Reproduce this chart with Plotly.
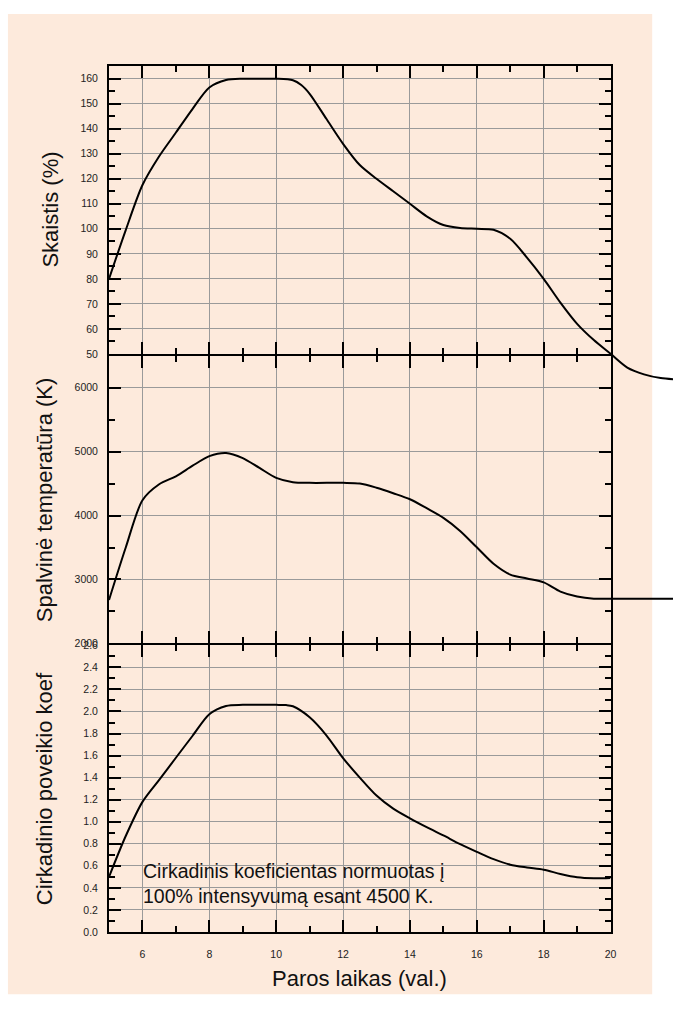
import plotly.graph_objects as go

# ---------------- data ----------------
hours_bright = [5, 5.5, 6, 6.5, 7, 7.5, 8, 8.5, 9, 9.5, 10, 10.5, 10.75, 11, 11.5, 12, 12.5, 13,
                13.5, 14, 14.5, 15, 15.5, 16, 16.5, 17, 17.5, 18, 18.5, 19, 19.5, 20, 20.5, 21,
                21.5, 21.9]
brightness = [80, 99.5, 117.5, 129, 138.5, 148, 156.5, 159.5, 160, 160, 160, 159.4, 157.5, 154,
              144, 134, 125.5, 120, 115, 110, 105, 101.5, 100.3, 100, 99.6, 96, 88.5, 80, 70.5,
              62, 55.5, 50, 44.5, 41.8, 40.3, 39.8]

hours_cct = [5, 5.5, 6, 6.5, 7, 7.5, 8, 8.5, 9, 9.5, 10, 10.5, 11, 12, 12.5, 13, 13.5, 14, 14.5,
             15, 15.5, 16, 16.5, 17, 17.5, 18, 18.5, 19, 19.5, 20, 21.9]
cct = [2680, 3500, 4240, 4490, 4615, 4780, 4930, 4980, 4900, 4745, 4590, 4523, 4512, 4512, 4502,
       4436, 4350, 4256, 4115, 3965, 3760, 3503, 3246, 3077, 3015, 2954, 2810, 2733, 2700, 2700,
       2700]

hours_circ = [5, 5.5, 6, 6.5, 7, 7.5, 8, 8.5, 9, 10, 10.3, 10.5, 11, 11.5, 12, 12.5, 13, 13.5, 14,
              14.5, 15, 15.5, 16, 16.5, 17, 17.5, 18, 18.5, 19, 19.5, 20]
circadian = [0.5, 0.87, 1.18, 1.38, 1.58, 1.78, 1.975, 2.05, 2.06, 2.06, 2.058, 2.047, 1.947, 1.784,
             1.577, 1.40, 1.237, 1.118, 1.03, 0.95, 0.875, 0.797, 0.727, 0.66, 0.61, 0.585, 0.565,
             0.526, 0.496, 0.487, 0.49]

x_range = [5, 20]
bright_range = [50, 165]
cct_range = [2000, 6500]
circ_range = [0, 2.6]

title_bright = "Skaistis (%)"
title_cct = "Spalvinė temperatūra (K)"
title_circ = "Cirkadinio poveikio koef"
title_x = "Paros laikas (val.)"
note = "Cirkadinis koeficientas normuotas į<br>100% intensyvumą esant 4500 K."

# ---------------- layout geometry (page pixels) ----------------
W, H = 679, 1015
FONT = "Liberation Sans, Arial, sans-serif"
BEIGE = "#FDEADC"


def px(x):
    return x / W


def py(y):
    return 1 - y / H


X_L, X_R, X_EXT = 110, 616, W
Y_T = 61
Y_1a, Y_1b = 352, 354     # bottom of top panel / top of middle panel
Y_2a, Y_2b = 645, 647     # bottom of middle panel / top of bottom panel
Y_B = 937
Y_EXT = 420               # lower end of the extended (invisible) axis for the brightness curve

# extended invisible axes so curves can run past the frame as in the original
ppx = (X_R - X_L) / (x_range[1] - x_range[0])
x_ext_range = [x_range[0], x_range[1] + (X_EXT - X_R) / ppx]
ppy_b = (Y_1a - Y_T) / (bright_range[1] - bright_range[0])
bright_ext_range = [bright_range[0] - (Y_EXT - Y_1a) / ppy_b, bright_range[1]]

fig = go.Figure()
line_style = dict(color="black", width=2, shape="spline", smoothing=0.8)
# empty traces so that every panel's axes get drawn
for xa, ya in (("x3", "y"), ("x2", "y2")):
    fig.add_trace(go.Scatter(x=[None], y=[None], mode="lines", xaxis=xa, yaxis=ya,
                             showlegend=False, hoverinfo="skip"))
fig.add_trace(go.Scatter(x=hours_bright, y=brightness, mode="lines", line=line_style,
                         xaxis="x4", yaxis="y4", showlegend=False, hoverinfo="skip"))
fig.add_trace(go.Scatter(x=hours_cct, y=cct, mode="lines", line=line_style,
                         xaxis="x4", yaxis="y5", showlegend=False, hoverinfo="skip"))
fig.add_trace(go.Scatter(x=hours_circ, y=circadian, mode="lines", line=line_style,
                         xaxis="x", yaxis="y3", showlegend=False, hoverinfo="skip"))

tickfont = dict(family=FONT, size=10.5, color="#222")
common = dict(showline=True, linecolor="black", linewidth=2, mirror="ticks",
              ticks="inside", ticklen=12, tickwidth=2, tickcolor="black",
              showgrid=True, gridcolor="#9a9a9a", gridwidth=1, zeroline=False,
              tickfont=tickfont, fixedrange=True)
minor = dict(ticks="inside", ticklen=6, tickwidth=2, tickcolor="black", showgrid=False)

xdom = [px(X_L), px(X_R)]
xcommon = dict(common, range=x_range, domain=xdom, tick0=0, dtick=2,
               minor=dict(minor, dtick=1))

fig.update_layout(
    width=W, height=H,
    margin=dict(l=0, r=0, t=0, b=0),
    paper_bgcolor="white",
    plot_bgcolor="rgba(0,0,0,0)",
    font=dict(family=FONT, color="#222"),
    xaxis=dict(xcommon, anchor="y3", showticklabels=True, ticklabelstandoff=11),
    xaxis2=dict(xcommon, anchor="y2", showticklabels=False),
    xaxis3=dict(xcommon, anchor="y", showticklabels=False),
    xaxis4=dict(range=x_ext_range, domain=[px(X_L), 1], anchor="y4", visible=False,
                fixedrange=True),
    yaxis=dict(common, range=bright_range, domain=[py(Y_1a), py(Y_T)], anchor="x3",
               tick0=0, dtick=10, minor=dict(minor, dtick=5), ticklabelstandoff=7),
    yaxis2=dict(common, range=cct_range, domain=[py(Y_2a), py(Y_1b)], anchor="x2",
                tick0=0, dtick=1000, tickformat="d", minor=dict(minor, dtick=500),
                ticklabelstandoff=7),
    yaxis3=dict(common, range=circ_range, domain=[py(Y_B), py(Y_2b)], anchor="x",
                tick0=0, dtick=0.2, tickformat=".1f", minor=dict(minor, dtick=0.1),
                ticklabelstandoff=7),
    yaxis4=dict(range=bright_ext_range, domain=[py(Y_EXT), py(Y_T)], anchor="x4",
                visible=False, fixedrange=True),
    yaxis5=dict(range=cct_range, domain=[py(Y_2a), py(Y_1b)], anchor="x4",
                visible=False, fixedrange=True),
    shapes=[dict(type="rect", xref="paper", yref="paper", x0=px(8), x1=px(658),
                 y0=py(1000), y1=py(8), fillcolor=BEIGE, line=dict(width=0), layer="below")],
)

title_font = dict(family=FONT, size=22, color="#111")
fig.add_annotation(text=title_bright, x=px(51), y=py((Y_T + Y_1a) / 2), xref="paper",
                   yref="paper", textangle=-90, showarrow=False, font=title_font,
                   xanchor="center", yanchor="middle")
fig.add_annotation(text=title_cct, x=px(45), y=py((Y_1b + Y_2a) / 2), xref="paper",
                   yref="paper", textangle=-90, showarrow=False, font=title_font,
                   xanchor="center", yanchor="middle")
fig.add_annotation(text=title_circ, x=px(45), y=py((Y_2b + Y_B) / 2), xref="paper",
                   yref="paper", textangle=-90, showarrow=False, font=title_font,
                   xanchor="center", yanchor="middle")
fig.add_annotation(text=title_x, x=px((X_L + X_R) / 2), y=py(984), xref="paper",
                   yref="paper", showarrow=False, font=title_font,
                   xanchor="center", yanchor="middle")
fig.add_annotation(text=note, x=px(142), y=py(888), xref="paper", yref="paper",
                   showarrow=False, align="left", xanchor="left", yanchor="middle",
                   font=dict(family=FONT, size=19.5, color="#111"))

# the page is exactly the window size: no body margin, no scrollbars, no modebar
fig.write_html("out.html",
               config={"displayModeBar": False},
               post_script="document.body.style.margin='0';"
                           "document.body.style.overflow='hidden';")
